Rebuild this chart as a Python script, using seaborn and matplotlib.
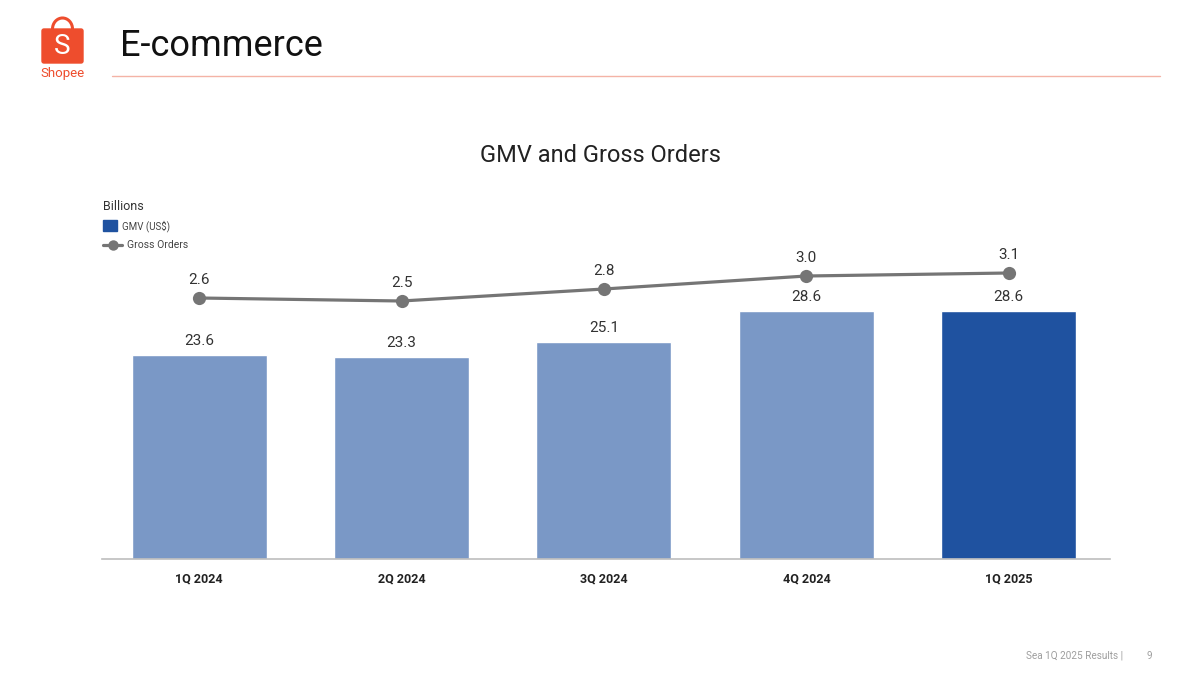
import matplotlib
matplotlib.use('Agg')
import numpy as np
import pandas as pd
import matplotlib.pyplot as plt
import seaborn as sns
from matplotlib.patches import FancyBboxPatch, Arc, Rectangle
from matplotlib.lines import Line2D

# chart data
quarters = ["1Q 2024", "2Q 2024", "3Q 2024", "4Q 2024", "1Q 2025"]
gmv = [23.6, 23.3, 25.1, 28.6, 28.6]
gross_orders = [2.6, 2.54, 2.78, 3.04, 3.1]
bar_colors = ["#7A98C6", "#7A98C6", "#7A98C6", "#7A98C6", "#1F52A0"]

sns.set_theme(style="white")
plt.rcParams['font.family'] = ['Roboto', 'DejaVu Sans']

fig = plt.figure(figsize=(12, 6.75), dpi=100)
fig.patch.set_facecolor("white")

# main axes, placed in pixel terms of the slide
ax = fig.add_axes([102 / 1200, 1 - 559 / 675, 1008 / 1200, 309 / 675])
df = pd.DataFrame({"quarter": quarters, "gmv": gmv})
sns.barplot(data=df, x="quarter", y="gmv", hue="quarter", palette=bar_colors,
            width=0.667, legend=False, ax=ax, saturation=1)
ax.set_xlim(-0.48, 4.5)
ax.set_ylim(0, 309 / 8.66)
for i, v in enumerate(gmv):
    ax.annotate("{:.1f}".format(v), (i, v), xytext=(0, 10), textcoords="offset points",
                ha="center", va="center", fontsize=11, color="#333333")
ax.set_xlabel("")
ax.set_ylabel("")
ax.set_yticks([])
ax.tick_params(axis="x", length=0, pad=10)
for lab in ax.get_xticklabels():
    lab.set_fontweight("bold")
    lab.set_fontsize(9)
    lab.set_color("#222222")
for s in ["top", "right", "left"]:
    ax.spines[s].set_visible(False)
ax.spines["bottom"].set_color("#BDBDBD")
ax.spines["bottom"].set_linewidth(1.2)

# gross orders on secondary axis
ax2 = ax.twinx()
sns.lineplot(x=np.arange(len(quarters)), y=gross_orders, ax=ax2, color="#757575",
             linewidth=2.3, marker="o", markersize=9.5, markeredgewidth=0)
ax2.set_ylim(3.1 - 286 / 50, 3.1 + 23 / 50)
ax2.set_yticks([])
for s in ["top", "right", "left", "bottom"]:
    ax2.spines[s].set_visible(False)
for i, v in enumerate(gross_orders):
    ax2.annotate("{:.1f}".format(v), (i, v), xytext=(0, 13), textcoords="offset points",
                 ha="center", va="center", fontsize=11, color="#333333")

# chart title and legend
fig.text(0.5, 1 - 155 / 675, "GMV and Gross Orders", ha="center", va="center",
         fontsize=17, color="#222222")
fig.text(103 / 1200, 1 - 206 / 675, "Billions", ha="left", va="center",
         fontsize=9, color="#333333")
fig.patches.append(Rectangle((103 / 1200, 1 - 231 / 675), 14 / 1200, 11 / 675,
                             transform=fig.transFigure, color="#1F52A0"))
fig.text(122 / 1200, 1 - 226 / 675, "GMV (US$)", ha="left", va="center",
         fontsize=7, color="#444444")
fig.lines.append(Line2D([103 / 1200, 122 / 1200], [1 - 245 / 675, 1 - 245 / 675],
                        transform=fig.transFigure, color="#757575", linewidth=2.3))
fig.lines.append(Line2D([112.5 / 1200], [1 - 245 / 675], transform=fig.transFigure,
                        color="#757575", marker="o", markersize=7.5, markeredgewidth=0,
                        linestyle="none"))
fig.text(127 / 1200, 1 - 245 / 675, "Gross Orders", ha="left", va="center",
         fontsize=7.5, color="#444444")

# slide header
fig.text(120 / 1200, 1 - 46 / 675, "E-commerce", ha="left", va="center",
         fontsize=26, color="#111111")
fig.lines.append(Line2D([112 / 1200, 1160 / 1200], [1 - 76 / 675, 1 - 76 / 675],
                        transform=fig.transFigure, color="#F4B3A6", linewidth=1))

# shopee logo
orange = "#EE4D2D"
lax = fig.add_axes([30 / 1200, 1 - 90 / 675, 64 / 1200, 80 / 675])
lax.set_xlim(30, 94)
lax.set_ylim(90, 10)
lax.axis("off")
lax.add_patch(FancyBboxPatch((42, 29), 41, 34, boxstyle="round,pad=0,rounding_size=2",
                             color=orange))
lax.add_patch(Arc((62.5, 29), 20, 22, theta1=180, theta2=360, color=orange, linewidth=2.2))
lax.text(62.5, 46.5, "S", ha="center", va="center", color="white", fontsize=20)
lax.text(62.5, 74, "Shopee", ha="center", va="center", color=orange, fontsize=9.5)

# footer
fig.text(1123 / 1200, 1 - 656 / 675, "Sea 1Q 2025 Results |", ha="right", va="center",
         fontsize=7.2, color="#9E9E9E")
fig.text(1149 / 1200, 1 - 656 / 675, "9", ha="center", va="center",
         fontsize=7, color="#9E9E9E")

fig.savefig("out.png", dpi=100, facecolor="white")
